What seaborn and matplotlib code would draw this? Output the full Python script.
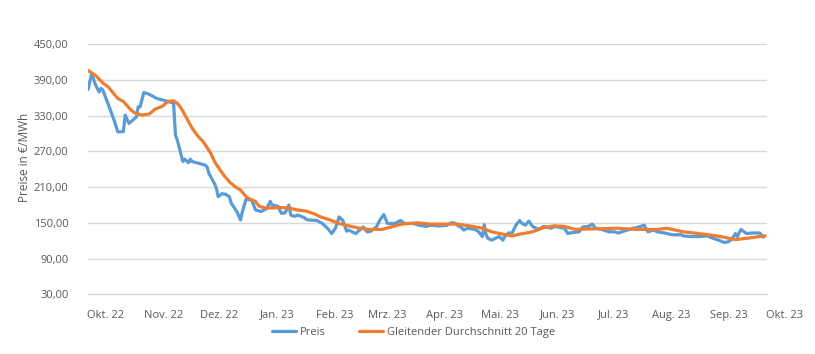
import matplotlib
matplotlib.use("Agg")
import matplotlib.pyplot as plt
import matplotlib.transforms as mtransforms
import pandas as pd
import seaborn as sns

###############################################################################
# Data.

preis_dates = [
    "2022-10-01", "2022-10-03", "2022-10-05", "2022-10-07", "2022-10-08",
    "2022-10-09", "2022-10-15", "2022-10-17", "2022-10-20", "2022-10-21",
    "2022-10-23", "2022-10-27", "2022-10-28", "2022-10-29", "2022-10-31",
    "2022-11-03", "2022-11-07", "2022-11-13", "2022-11-16", "2022-11-17",
    "2022-11-18", "2022-11-19", "2022-11-21", "2022-11-22", "2022-11-24",
    "2022-11-25", "2022-11-26", "2022-12-03", "2022-12-04", "2022-12-05",
    "2022-12-08", "2022-12-09", "2022-12-10", "2022-12-12", "2022-12-14",
    "2022-12-16", "2022-12-17", "2022-12-20", "2022-12-22", "2022-12-23",
    "2022-12-25", "2022-12-28", "2022-12-30", "2023-01-02", "2023-01-05",
    "2023-01-07", "2023-01-08", "2023-01-11", "2023-01-13", "2023-01-15",
    "2023-01-17", "2023-01-18", "2023-01-20", "2023-01-22", "2023-01-25",
    "2023-01-27", "2023-02-01", "2023-02-04", "2023-02-07", "2023-02-09",
    "2023-02-11", "2023-02-13", "2023-02-15", "2023-02-17", "2023-02-18",
    "2023-02-20", "2023-02-22", "2023-02-24", "2023-02-26", "2023-02-28",
    "2023-03-02", "2023-03-05", "2023-03-07", "2023-03-09", "2023-03-11",
    "2023-03-15", "2023-03-18", "2023-03-20", "2023-03-25", "2023-03-28",
    "2023-04-01", "2023-04-03", "2023-04-07", "2023-04-09", "2023-04-12",
    "2023-04-14", "2023-04-16", "2023-04-18", "2023-04-19", "2023-04-21",
    "2023-04-23", "2023-04-27", "2023-04-29", "2023-05-01", "2023-05-02",
    "2023-05-03", "2023-05-04", "2023-05-06", "2023-05-08", "2023-05-10",
    "2023-05-12", "2023-05-13", "2023-05-15", "2023-05-17", "2023-05-19",
    "2023-05-21", "2023-05-22", "2023-05-24", "2023-05-26", "2023-05-28",
    "2023-05-31", "2023-06-03", "2023-06-07", "2023-06-09", "2023-06-14",
    "2023-06-16", "2023-06-17", "2023-06-22", "2023-06-24", "2023-06-27",
    "2023-06-29", "2023-07-01", "2023-07-04", "2023-07-08", "2023-07-11",
    "2023-07-13", "2023-07-16", "2023-07-21", "2023-07-23", "2023-07-27",
    "2023-07-29", "2023-08-01", "2023-08-03", "2023-08-07", "2023-08-11",
    "2023-08-16", "2023-08-17", "2023-08-21", "2023-08-25", "2023-08-30",
    "2023-09-02", "2023-09-05", "2023-09-08", "2023-09-10", "2023-09-12",
    "2023-09-14", "2023-09-15", "2023-09-17", "2023-09-20", "2023-09-23",
    "2023-09-27", "2023-09-28", "2023-09-29",
]
preis_values = [
    374, 401, 382, 370, 376, 373, 323, 303, 303, 331,
    317, 328, 345, 345, 369, 366, 359, 354, 351, 298,
    289, 277, 253, 257, 251, 257, 253, 247, 244, 233,
    216, 208, 194, 199, 198, 194, 183, 169, 155, 169,
    190, 188, 172, 169, 174, 186, 180, 178, 166, 167,
    180, 163, 161, 163, 159, 155, 154, 149, 140, 132,
    141, 160, 154, 136, 138, 135, 132, 138, 143, 135,
    136, 143, 155, 164, 149, 149, 154, 149, 149, 146,
    144, 146, 145, 145, 146, 150, 150, 145, 144, 138,
    141, 139, 135, 127, 147, 130, 124, 121, 124, 127,
    121, 127, 133, 133, 146, 154, 150, 146, 153, 144,
    139, 144, 141, 144, 141, 132, 133, 135, 143, 144,
    148, 141, 139, 135, 135, 133, 136, 141, 142, 146,
    135, 138, 135, 133, 130, 130, 128, 127, 127, 128,
    124, 121, 117, 118, 122, 132, 127, 139, 132, 133,
    133, 130, 126,
]

avg_dates = [
    "2022-10-01", "2022-10-05", "2022-10-09", "2022-10-12", "2022-10-17",
    "2022-10-20", "2022-10-24", "2022-10-26", "2022-10-30", "2022-11-03",
    "2022-11-06", "2022-11-10", "2022-11-13", "2022-11-16", "2022-11-18",
    "2022-11-20", "2022-11-23", "2022-11-26", "2022-11-29", "2022-12-02",
    "2022-12-06", "2022-12-08", "2022-12-11", "2022-12-13", "2022-12-16",
    "2022-12-19", "2022-12-22", "2022-12-25", "2022-12-27", "2022-12-30",
    "2023-01-01", "2023-01-04", "2023-01-08", "2023-01-12", "2023-01-17",
    "2023-01-21", "2023-01-26", "2023-01-30", "2023-02-03", "2023-02-08",
    "2023-02-13", "2023-02-18", "2023-02-24", "2023-03-01", "2023-03-08",
    "2023-03-14", "2023-03-19", "2023-03-27", "2023-04-03", "2023-04-10",
    "2023-04-17", "2023-04-24", "2023-05-01", "2023-05-06", "2023-05-12",
    "2023-05-17", "2023-05-21", "2023-05-28", "2023-06-03", "2023-06-09",
    "2023-06-14", "2023-06-20", "2023-07-01", "2023-07-12", "2023-07-23",
    "2023-08-03", "2023-08-08", "2023-08-17", "2023-08-28", "2023-09-06",
    "2023-09-14", "2023-09-20", "2023-09-27", "2023-09-30",
]
avg_values = [
    406, 398, 385, 378, 359, 354, 340, 335, 331, 333,
    341, 346, 354, 355, 351, 343, 326, 309, 296, 286,
    267, 253, 239, 230, 219, 211, 205, 194, 190, 186,
    178, 175, 175, 176, 175, 172, 170, 166, 160, 155,
    149, 145, 141, 139, 139, 144, 148, 150, 148, 148,
    148, 145, 141, 135, 131, 128, 131, 135, 142, 145,
    144, 139, 140, 141, 139, 139, 141, 135, 131, 127,
    122, 124, 127, 128,
]

series_names = ["Preis", "Gleitender Durchschnitt 20 Tage"]
month_labels = ["Okt. 22", "Nov. 22", "Dez. 22", "Jan. 23", "Feb. 23",
                "Mrz. 23", "Apr. 23", "Mai. 23", "Jun. 23", "Jul. 23",
                "Aug. 23", "Sep. 23", "Okt. 23"]
y_ticks = [30, 90, 150, 210, 270, 330, 390, 450]

###############################################################################
# Long table for seaborn.

df = pd.concat([
    pd.DataFrame({"Datum": pd.to_datetime(preis_dates),
                  "Wert": preis_values, "Reihe": series_names[0]}),
    pd.DataFrame({"Datum": pd.to_datetime(avg_dates),
                  "Wert": avg_values, "Reihe": series_names[1]}),
], ignore_index=True)

###############################################################################
# Plot.

sns.set_style("white")
plt.rcParams["font.family"] = ["Open Sans", "DejaVu Sans"]
text_col = "#595959"
palette = ["#5B9BD5", "#ED7D31"]

fig = plt.figure(figsize=(8.15, 3.54), dpi=100)
ax = fig.add_axes([88 / 815, 1 - 294.3 / 354, (767 - 88) / 815,
                   (294.3 - 44.3) / 354])

sns.lineplot(data=df, x="Datum", y="Wert", hue="Reihe", palette=palette,
             estimator=None, linewidth=2.3, ax=ax, legend=True)

ax.set_ylim(30, 450)
ax.set_xlim(pd.Timestamp("2022-10-01"), pd.Timestamp("2023-10-01"))
ax.set_yticks(y_ticks)
ax.set_yticklabels(["{:.2f}".format(v).replace(".", ",") for v in y_ticks],
                   fontsize=8, color=text_col)
ax.yaxis.grid(True, color="#D9D9D9", linewidth=1)
ax.set_axisbelow(True)
ax.tick_params(axis="y", length=0, pad=14)

month_pos = pd.date_range("2022-10-01", "2023-10-01", freq="MS")
ax.set_xticks(month_pos)
ax.set_xticklabels(month_labels, fontsize=8, color=text_col)
ax.tick_params(axis="x", length=4, color="#BFBFBF", pad=7)
offset = mtransforms.ScaledTranslation(0.18, 0, fig.dpi_scale_trans)
for lbl in ax.get_xticklabels():
    lbl.set_transform(lbl.get_transform() + offset)

for side in ["left", "right", "top"]:
    ax.spines[side].set_visible(False)
ax.spines["bottom"].set_color("#D9D9D9")
ax.spines["bottom"].set_linewidth(1)
ax.set_xlabel("")
ax.set_ylabel("")
fig.text(25 / 815, 1 - 157 / 354, "Preise in €/MWh", rotation=90,
         ha="center", va="center", fontsize=8.5, color=text_col)

handles, labels = ax.get_legend_handles_labels()
ax.get_legend().remove()
fig.legend(handles, labels, loc="center", bbox_to_anchor=(0.507, 0.06),
           ncol=2, frameon=False, fontsize=8, labelcolor=text_col,
           handlelength=2.2, columnspacing=3.0, handletextpad=0.3)

plt.savefig("out.png", dpi=100)
plt.close()
